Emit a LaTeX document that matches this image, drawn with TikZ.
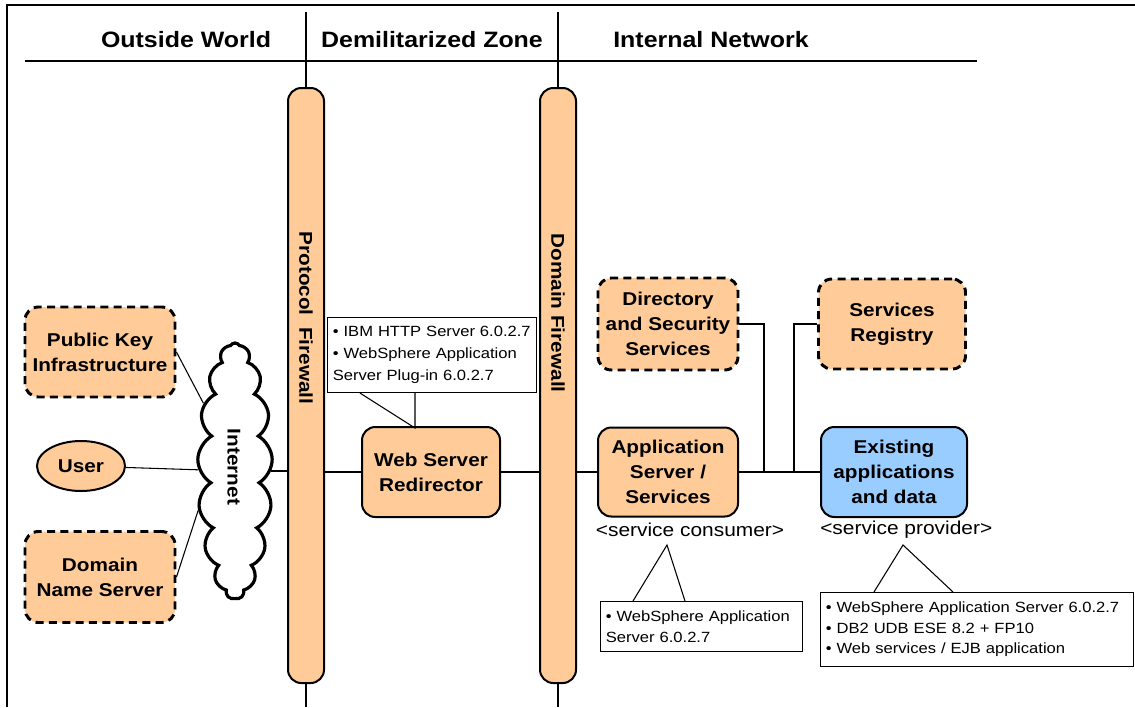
\documentclass[tikz,border=0pt]{standalone}
\usepackage{fontspec}
\setmainfont[FakeStretch=1.12]{Liberation Sans}
\usepackage{tikz}
\usetikzlibrary{shapes.symbols,shapes.geometric,calc}

\definecolor{peach}{RGB}{255,204,153}
\definecolor{skyblue}{RGB}{153,204,255}

\begin{document}
\begin{tikzpicture}[x=0.75pt,y=-0.75pt,
        every node/.style={inner sep=0pt},
        head/.style={font=\fontsize{16.7}{20}\selectfont\bfseries},
        box/.style={draw,line width=1.5pt,rounded corners=10pt,fill=peach,align=center,
            font=\fontsize{13.9}{18.7}\selectfont\bfseries},
        dbox/.style={box,dash pattern=on 6pt off 4pt,line width=2.2pt},
        wall/.style={draw,line width=1.5pt,fill=peach,rounded corners=10pt,minimum width=27pt},
        walltext/.style={rotate=-90,font=\fontsize{13.9}{16}\selectfont\bfseries},
        note/.style={draw,line width=0.8pt,fill=white,anchor=north west,align=left,
            inner xsep=4pt,font=\fontsize{11.1}{16.5}\selectfont},
        tag/.style={font=\fontsize{14}{16}\selectfont},
        wire/.style={line width=0.8pt}]

    \useasboundingbox (0,0) rectangle (1135,707);

    \draw[line width=1pt] (7,707) -- (7,5) -- (1135,5);
    \draw[line width=1.2pt] (25,61) -- (977,61);

    \node[head] (outside) at (186,40) {Outside World};
    \node[head] (dmz) at (432,40) {Demilitarized Zone};
    \node[head] (internal) at (711,40) {Internal Network};

    \node[wall,minimum height=446.25pt] (pfw) at (306,385.5) {};
    \node[wall,minimum height=446.25pt] (dfw) at (558,385.5) {};
    \node[walltext] (pfwlabel) at (306,318) {Protocol\ \ Firewall};
    \node[walltext] (dfwlabel) at (558,313) {Domain Firewall};

    \coordinate (ptop) at (306,12);
    \coordinate (pbot) at (306,707);
    \coordinate (dtop) at (558,12);
    \coordinate (dbot) at (558,707);
    \draw[wire] (ptop) -- (pfw.north);
    \draw[wire] (pfw.south) -- (pbot);
    \draw[wire] (dtop) -- (dfw.north);
    \draw[wire] (dfw.south) -- (dbot);

    \node[dbox,minimum width=112.5pt,minimum height=67.5pt] (pki) at (100,352) {Public Key\\Infrastructure};
    \node[box,ellipse,minimum width=66pt,minimum height=37.5pt] (user) at (81,466) {User};
    \node[dbox,minimum width=112.5pt,minimum height=68.25pt] (dns) at (100,577) {Domain\\Name Server};

    \node[cloud,draw,fill=white,line width=2.4pt,cloud puffs=17,cloud puff arc=120,cloud ignores aspect,
        minimum width=56pt,minimum height=192pt] (cloud) at (235,471) {};
    \node[walltext] (inet) at (234,467) {Internet};

    \node[box,minimum width=103.5pt,minimum height=67.5pt] (web) at (431,472) {Web Server\\Redirector};
    \node[note,text width=148.75pt,minimum height=56.25pt] (webnote) at (327,317)
        {• IBM HTTP Server 6.0.2.7\\• WebSphere Application\\Server Plug-in 6.0.2.7};
    \coordinate (webtip) at (415,428);

    \node[dbox,minimum width=105pt,minimum height=69pt] (dir) at (668,324) {Directory\\and Security\\Services};
    \node[dbox,minimum width=110.25pt,minimum height=67.5pt] (reg) at (892,324) {Services\\Registry};
    \node[box,minimum width=105pt,minimum height=66.75pt] (app) at (668,472) {Application\\Server /\\Services};
    \node[box,fill=skyblue,minimum width=109.5pt,minimum height=67.5pt] (exist) at (894,472) {Existing\\applications\\and data};

    \coordinate (dirjoin) at (764,472);
    \coordinate (regjoin) at (794,472);

    \draw[wire] (user) -- (cloud);
    \draw[wire] (pki.east) -- (cloud.115);
    \draw[wire] (dns.east) -- (cloud.227);
    \draw[wire] (cloud.east) -- (pfw.west |- cloud.east);
    \draw[wire] (pfw.east |- web.west) -- (web.west);
    \draw[wire] (web.east) -- (dfw.west |- web.east);
    \draw[wire] (dfw.east |- app.west) -- (app.west);
    \draw[wire] (app) -- (exist);
    \draw[wire] (dir.east) -| (dirjoin);
    \draw[wire] (reg.west) -| (regjoin);

    \draw[wire] ($(webnote.south west)+(33,0)$) -- (webtip) -- (webtip |- webnote.south);

    \node[tag] (contag) at (690,530) {<service consumer>};
    \node[tag,anchor=west] (protag) at (820,530) {<service provider>};

    \node[note,text width=143.5pt,minimum height=37.5pt,font=\fontsize{11.1}{15.5}\selectfont] (connote) at (600,601)
        {• WebSphere Application\\Server 6.0.2.7};
    \node[note,text width=226.75pt,minimum height=55.5pt,font=\fontsize{11.1}{15.4}\selectfont] (pronote) at (820,592)
        {• WebSphere Application Server 6.0.2.7\\• DB2 UDB ESE 8.2 + FP10\\• Web services / EJB application};
    \coordinate (contip) at (667,545);
    \coordinate (protip) at (903,545);
    \draw[wire] ($(connote.north west)+(33,0)$) -- (contip) -- ($(connote.north west)+(85,0)$);
    \draw[wire] ($(pronote.north west)+(54,0)$) -- (protip) -- ($(pronote.north west)+(133,0)$);
\end{tikzpicture}
\end{document}
